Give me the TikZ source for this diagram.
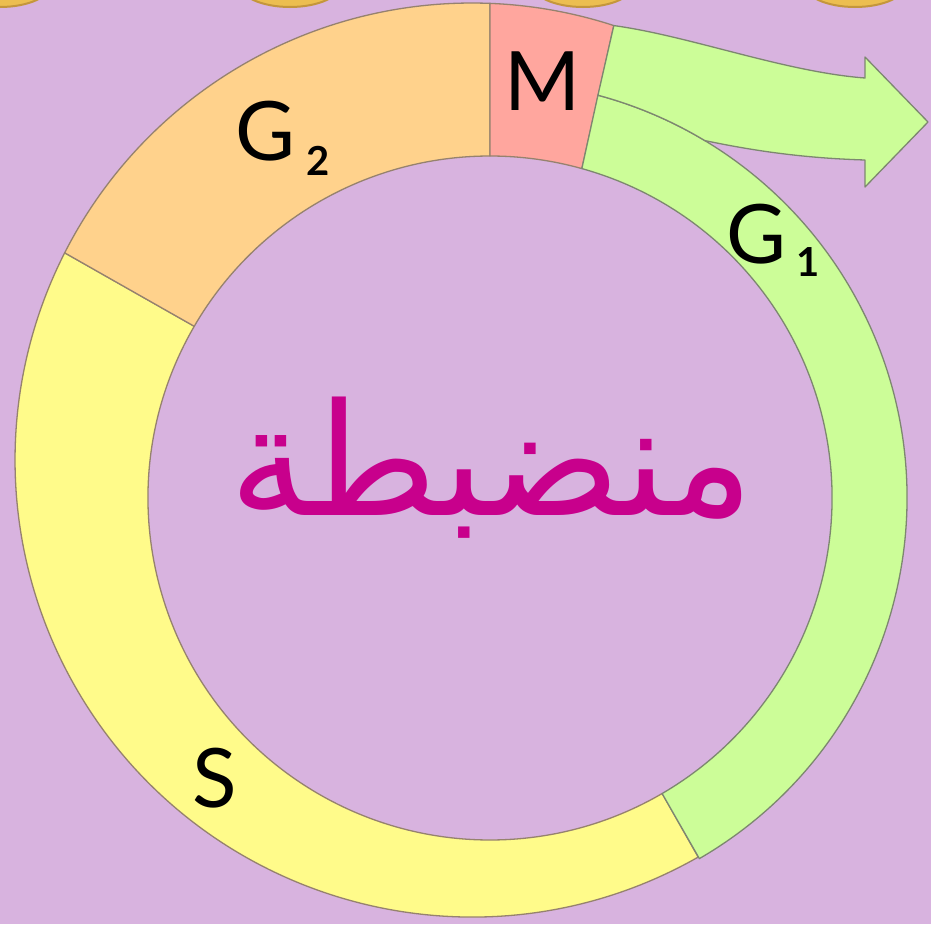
\documentclass[tikz,border=0pt]{standalone}
\usepackage{fontspec}
\setmainfont{Lato}
\newfontfamily\arabicfont[Script=Arabic]{DejaVu Sans}
\TeXXeTstate=1
\usetikzlibrary{calc}
\definecolor{bgcol}{RGB}{216,179,223}
\definecolor{g2col}{RGB}{255,210,140}
\definecolor{mcol}{RGB}{255,166,158}
\definecolor{g1col}{RGB}{204,253,152}
\definecolor{scol}{RGB}{255,251,138}
\definecolor{edgecol}{RGB}{150,130,110}
\definecolor{gedge}{RGB}{125,135,112}
\definecolor{coinfill}{RGB}{236,190,80}
\definecolor{coinrim}{RGB}{196,150,60}
\definecolor{arabcol}{RGB}{200,0,140}
\begin{document}
\begin{tikzpicture}[x=1pt,y=-1pt,
  seg/.style={draw=edgecol, line width=1.3pt, line join=round},
  gseg/.style={draw=gedge, line width=1.3pt, line join=round},
  coin/.style={fill=coinfill, draw=coinrim, line width=2pt},
  lbl/.style={inner sep=0pt, text=black, font=\fontsize{82}{82}\selectfont},
  sub/.style={inner sep=0pt, text=black, font=\bfseries\fontsize{40}{40}\selectfont}]
\useasboundingbox (0,0) rectangle (931,924);
\fill[bgcol] (0,0) rectangle (931,924);
\coordinate (O1) at (472,460);
\coordinate (O2) at (490,498);
% coins at top edge
\begin{scope}
\clip (0,0) rectangle (931,924);
\foreach \cx in {0,290,583,855} \draw[coin] (\cx,-17) ellipse [x radius=52, y radius=24];
\end{scope}
% S
\path[seg, fill=scol] ($(O1)+(60.33:457)$) arc[start angle=60.33, end angle=206.96, radius=457]
  -- ($(O2)+(210.14:342)$) arc[start angle=210.14, end angle=59.78, radius=342] -- cycle;
% G2
\path[seg, fill=g2col] ($(O1)+(206.96:457)$) arc[start angle=206.96, end angle=272.26, radius=457]
  -- ($(O2)+(270:342)$) arc[start angle=270, end angle=210.14, radius=342] -- cycle;
% M
\path[seg, fill=mcol] ($(O1)+(272.26:457)$) arc[start angle=272.26, end angle=288.08, radius=457]
  -- ($(O2)+(285.58:342)$) arc[start angle=285.58, end angle=270, radius=342] -- cycle;
% G1 band
\path[gseg, fill=g1col] ($(O2)+(285.58:342)$) arc[start angle=285.58, end angle=419.78, radius=342]
  -- ($(O2)+(419.86:417)$) arc[start angle=419.86, end angle=285, radius=417] -- cycle;
% G1 exit arrow
\path[gseg, fill=g1col] ($(O1)+(288.08:457)$) .. controls (690,36) and (785,72) .. (865,78)
  -- (865,57) -- (928,122) -- (865,187) -- (865,160)
  .. controls (800,158) and (750,150) .. ($(O2)+(301:417)$)
  arc[start angle=301, end angle=285, radius=417] -- cycle;
% labels
\node[lbl] (m) at (543,81) {M};
\node[lbl] (g2) at (265,131) {G};
\node[sub] (g2s) at (318,161) {2};
\node[lbl] (g1) at (756,234) {G};
\node[sub] (g1s) at (808,262) {1};
\node[lbl] (s) at (215,778) {S};
\node[text=arabcol, inner sep=0pt, font=\arabicfont\fontsize{156}{156}\selectfont] (word) at (492,468) {\beginR منضبطة\endR};
\end{tikzpicture}
\end{document}
